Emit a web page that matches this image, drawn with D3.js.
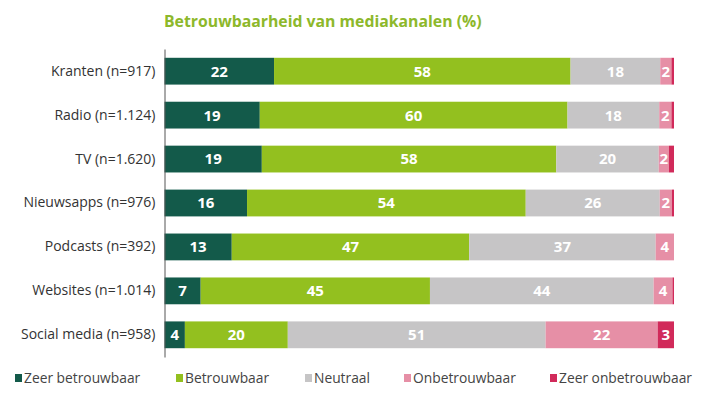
<!DOCTYPE html>
<html>
<head>
<meta charset="utf-8">
<script src="https://cdn.jsdelivr.net/npm/d3@7"></script>
<style>
  body { margin: 0; background: #fff; }
  text { font-family: "Open Sans", sans-serif; }
</style>
</head>
<body>
<script>
const categories = ['Kranten (n=917)', 'Radio (n=1.124)', 'TV (n=1.620)', 'Nieuwsapps (n=976)',
  'Podcasts (n=392)', 'Websites (n=1.014)', 'Social media (n=958)'];
const seriesNames = ['Zeer betrouwbaar', 'Betrouwbaar', 'Neutraal', 'Onbetrouwbaar', 'Zeer onbetrouwbaar'];
const colors = ['#135a4a', '#93c01f', '#c6c5c6', '#e68fa6', '#d12a5a'];

// values as drawn (percent), labels as printed
const zeerBetrouwbaar = [21.5, 18.7, 19.1, 16.2, 13.2, 7.1, 4.0];
const betrouwbaar     = [58.2, 60.4, 57.8, 54.7, 46.6, 45.0, 20.2];
const neutraal        = [17.6, 18.0, 20.1, 26.3, 36.6, 43.9, 50.6];
const onbetrouwbaar   = [2.2, 2.4, 2.0, 2.4, 3.6, 3.7, 22.0];
const zeerOnbetr      = [0.5, 0.5, 1.0, 0.4, 0.0, 0.3, 3.2];

const labZeerBetr = [22, 19, 19, 16, 13, 7, 4];
const labBetr     = [58, 60, 58, 54, 47, 45, 20];
const labNeutraal = [18, 18, 20, 26, 37, 44, 51];
const labOnbetr   = [2, 2, 2, 2, 4, 4, 22];
const labZeerOn   = [null, null, null, null, null, null, 3];

const values = [zeerBetrouwbaar, betrouwbaar, neutraal, onbetrouwbaar, zeerOnbetr];
const labels = [labZeerBetr, labBetr, labNeutraal, labOnbetr, labZeerOn];

const width = 705, height = 398;
const left = 164.5, right = 674;

const svg = d3.select('body').append('svg')
  .attr('width', width)
  .attr('height', height);

const x = d3.scaleLinear().domain([0, 100]).range([left, right]);
const y = d3.scaleBand().domain(categories).range([49, 357]).paddingInner(0.39).paddingOuter(0.2);

// title
svg.append('text')
  .attr('x', 164)
  .attr('y', 27)
  .attr('fill', '#8db82b')
  .attr('font-size', 15.8)
  .attr('font-weight', 700)
  .text('Betrouwbaarheid van mediakanalen (%)');

// stacked rows
const rows = categories.map((c, i) => {
  const r = { cat: c };
  seriesNames.forEach((s, k) => { r[s] = values[k][i]; });
  return r;
});
const stacked = d3.stack().keys(seriesNames)(rows);

const groups = svg.selectAll('g.series')
  .data(stacked)
  .enter().append('g')
  .attr('class', 'series')
  .attr('fill', (d, k) => colors[k]);

groups.selectAll('rect')
  .data(d => d)
  .enter().append('rect')
  .attr('x', d => x(d[0]))
  .attr('y', d => y(d.data.cat))
  .attr('width', d => Math.max(0, x(d[1]) - x(d[0])))
  .attr('height', y.bandwidth());

groups.selectAll('text')
  .data((d, k) => d.map((p, i) => ({ p, lab: labels[k][i] })).filter(o => o.lab !== null))
  .enter().append('text')
  .attr('x', o => (x(o.p[0]) + x(o.p[1])) / 2)
  .attr('y', o => y(o.p.data.cat) + y.bandwidth() / 2)
  .attr('dy', '0.36em')
  .attr('text-anchor', 'middle')
  .attr('fill', '#fff')
  .attr('font-size', 15)
  .attr('font-weight', 700)
  .text(o => o.lab);

// category axis
const axis = svg.append('g')
  .attr('transform', `translate(${left},0)`)
  .call(d3.axisLeft(y).tickSize(0).tickPadding(9));
axis.select('.domain').attr('stroke', '#555').attr('stroke-width', 1);
axis.selectAll('.tick text')
  .attr('font-family', '"Open Sans", sans-serif')
  .attr('font-size', 14)
  .attr('fill', '#333');

// legend
const legendX = [15, 176, 305, 404, 550];
const legend = svg.append('g')
  .selectAll('g')
  .data(seriesNames)
  .enter().append('g')
  .attr('transform', (d, k) => `translate(${legendX[k]},378)`);

legend.append('rect')
  .attr('x', 0)
  .attr('y', -4)
  .attr('width', 7)
  .attr('height', 8)
  .attr('fill', (d, k) => colors[k]);

legend.append('text')
  .attr('x', 9)
  .attr('y', 0)
  .attr('dy', '0.35em')
  .attr('font-size', 13.8)
  .attr('fill', '#444')
  .text(d => d);
</script>
</body>
</html>
